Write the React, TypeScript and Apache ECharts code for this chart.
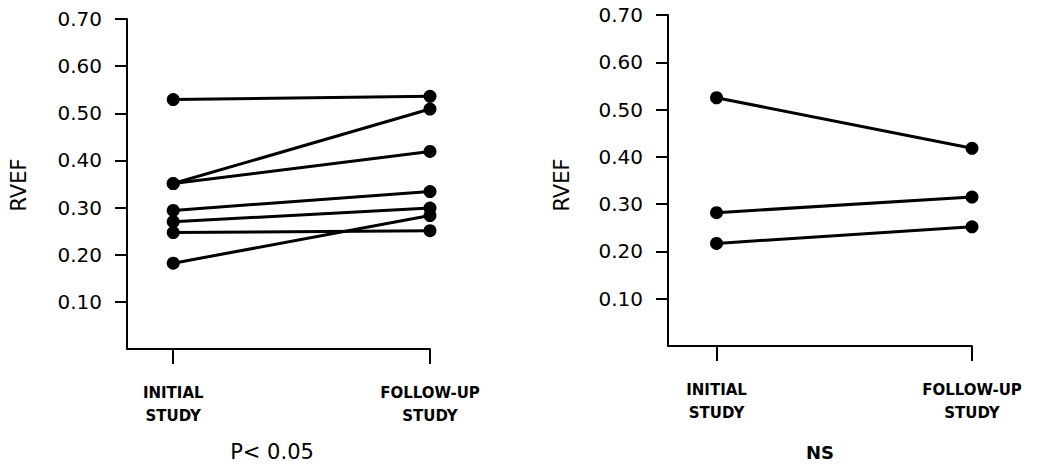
import React, { useEffect, useRef } from "react";
import * as echarts from "echarts";

// Left panel (P < 0.05): paired RVEF values, initial -> follow-up
const leftInitial = [0.529, 0.351, 0.351, 0.294, 0.270, 0.247, 0.182];
const leftFollowUp = [0.536, 0.509, 0.419, 0.334, 0.299, 0.251, 0.283];

// Right panel (NS)
const rightInitial = [0.525, 0.282, 0.217];
const rightFollowUp = [0.418, 0.315, 0.252];

const studyLabels = ["INITIAL\nSTUDY", "FOLLOW-UP\nSTUDY"];
const yTicks = [0.1, 0.2, 0.3, 0.4, 0.5, 0.6, 0.7];
const panelTitles = ["P< 0.05", "NS"];
const yName = "RVEF";

const FONT = "DejaVu Sans";

function buildSeries(init: number[], follow: number[], gridIndex: number, prefix: string) {
  return init.map((v, i) => ({
    name: `${prefix}-${i + 1}`,
    type: "line",
    xAxisIndex: gridIndex,
    yAxisIndex: gridIndex,
    data: [
      [0, v],
      [1, follow[i]],
    ],
    symbol: "circle",
    symbolSize: 13,
    showSymbol: true,
    lineStyle: { color: "#000", width: 3 },
    itemStyle: { color: "#000" },
    z: 3,
  }));
}

function xAxisDef(gridIndex: number, min: number) {
  return {
    type: "value",
    gridIndex,
    min,
    max: 1,
    axisLine: { show: true, onZero: false, lineStyle: { color: "#000", width: 2 } },
    axisTick: {
      show: true,
      customValues: [0, 1],
      length: 15,
      inside: false,
      lineStyle: { color: "#000", width: 2 },
    },
    axisLabel: {
      show: true,
      customValues: [0, 1],
      formatter: (v: number) => (v === 0 ? studyLabels[0] : studyLabels[1]),
      fontFamily: FONT,
      fontWeight: "bold",
      fontSize: 15,
      lineHeight: 23,
      color: "#000",
      margin: 32,
      align: "center",
    },
    splitLine: { show: false },
  };
}

function yAxisDef(gridIndex: number) {
  return {
    type: "value",
    gridIndex,
    min: 0,
    max: 0.7,
    interval: 0.1,
    axisLine: { show: true, onZero: false, lineStyle: { color: "#000", width: 2 } },
    axisTick: {
      show: true,
      customValues: yTicks,
      length: 12,
      lineStyle: { color: "#000", width: 2 },
    },
    axisLabel: {
      show: true,
      customValues: yTicks,
      formatter: (v: number) => (v === 0 ? "" : v.toFixed(2)),
      fontFamily: FONT,
      fontSize: 20,
      color: "#000",
      margin: 25,
    },
    splitLine: { show: false },
  };
}

export default function App() {
  const ref = useRef<HTMLDivElement>(null);

  useEffect(() => {
    if (!ref.current) return;
    const chart = echarts.init(ref.current, undefined, { renderer: "svg" });
    chart.setOption({
      animation: false,
      backgroundColor: "#fff",
      grid: [
        { left: 127, top: 19, width: 303, height: 330 },
        { left: 668, top: 15, width: 304, height: 331 },
      ],
      xAxis: [xAxisDef(0, -0.18), xAxisDef(1, -0.19)],
      yAxis: [yAxisDef(0), yAxisDef(1)],
      series: [
        ...buildSeries(leftInitial, leftFollowUp, 0, "left"),
        ...buildSeries(rightInitial, rightFollowUp, 1, "right"),
      ],
      graphic: [
        {
          type: "text",
          x: 19,
          y: 185,
          rotation: Math.PI / 2,
          style: {
            text: yName,
            fontFamily: FONT,
            fontSize: 21,
            fill: "#000",
            align: "center",
            verticalAlign: "middle",
          },
        },
        {
          type: "text",
          x: 562,
          y: 185,
          rotation: Math.PI / 2,
          style: {
            text: yName,
            fontFamily: FONT,
            fontSize: 21,
            fill: "#000",
            align: "center",
            verticalAlign: "middle",
          },
        },
        {
          type: "text",
          x: 272,
          y: 452,
          style: {
            text: panelTitles[0],
            fontFamily: FONT,
            fontSize: 21,
            fill: "#000",
            align: "center",
            verticalAlign: "middle",
          },
        },
        {
          type: "text",
          x: 820,
          y: 452,
          style: {
            text: panelTitles[1],
            fontFamily: FONT,
            fontWeight: "bold",
            fontSize: 18,
            fill: "#000",
            align: "center",
            verticalAlign: "middle",
          },
        },
      ],
    });
    return () => chart.dispose();
  }, []);

  return (
    <div
      ref={ref}
      style={{ position: "fixed", left: 0, top: 0, width: 1039, height: 466, background: "#fff" }}
    />
  );
}
